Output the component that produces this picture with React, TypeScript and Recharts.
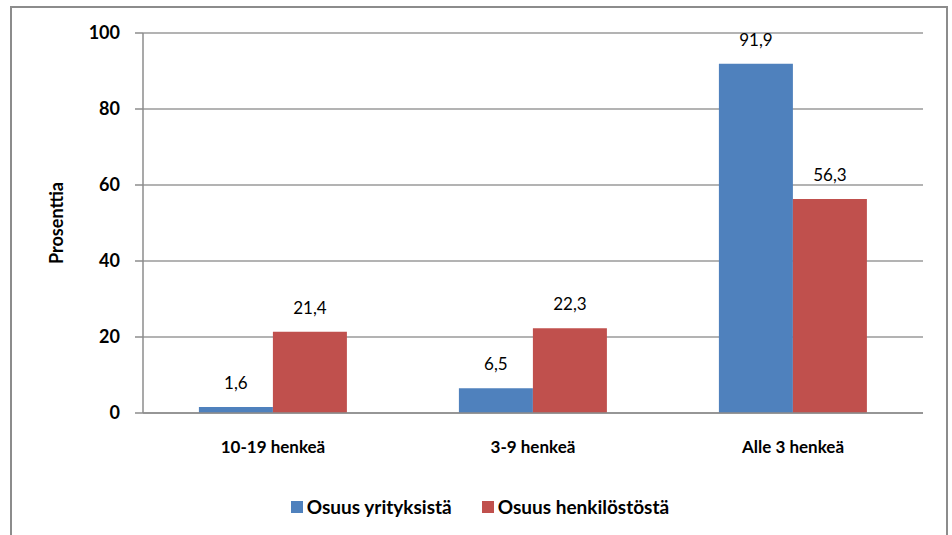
import { BarChart, Bar, XAxis, YAxis, CartesianGrid, Legend, LabelList } from "recharts";

const categories = ["10-19  henkeä", "3-9 henkeä", "Alle 3 henkeä"];
const yritykset = [1.6, 6.5, 91.9];
const henkilosto = [21.4, 22.3, 56.3];
const yTicks = [0, 20, 40, 60, 80, 100];
const seriesNames = ["Osuus yrityksistä", "Osuus henkilöstöstä"];
const seriesColors = ["#4f81bd", "#c0504d"];

const data = categories.map((name, i) => ({
  name,
  yritykset: yritykset[i],
  henkilosto: henkilosto[i],
}));

const font = "Lato, 'Open Sans', sans-serif";
const fmt = (v: any) => String(v).replace(".", ",");

const LegendContent = () => (
  <div style={{ display: "flex", justifyContent: "center", gap: 30, fontFamily: font, fontSize: 19, fontWeight: 700, color: "#000", marginLeft: -26 }}>
    {seriesNames.map((n, i) => (
      <div key={n} style={{ display: "flex", alignItems: "center", gap: 4 }}>
        <span style={{ display: "inline-block", width: 12, height: 12, background: seriesColors[i] }} />
        <span>{n}</span>
      </div>
    ))}
  </div>
);

export default function App() {
  return (
    <div style={{ position: "absolute", left: 0, top: 0, width: 952, height: 535, background: "#fff", fontFamily: font }}>
      <div
        style={{
          position: "absolute",
          left: 10,
          top: 6,
          width: 938,
          height: 540,
          border: "2px solid #8c8c8c",
          boxSizing: "border-box",
        }}
      />
      <BarChart
        width={952}
        height={535}
        data={data}
        margin={{ top: 33, right: 29, left: 63, bottom: 17 }}
        barCategoryGap="21.5%"
        barGap={0}
      >
        <CartesianGrid vertical={false} stroke="#9a9a9a" strokeWidth={1.5} />
        <XAxis
          dataKey="name"
          height={82}
          tickLine={false}
          axisLine={{ stroke: "#8c8c8c", strokeWidth: 1.5 }}
          tick={{ fill: "#000", fontSize: 17, fontWeight: 700, fontFamily: font }}
          tickMargin={22}
        />
        <YAxis
          width={80}
          domain={[0, 100]}
          ticks={yTicks}
          tickSize={8}
          tickMargin={15}
          axisLine={{ stroke: "#8c8c8c", strokeWidth: 1.5 }}
          tickLine={{ stroke: "#8c8c8c", strokeWidth: 1.5 }}
          tick={{ fill: "#000", fontSize: 18, fontWeight: 700, fontFamily: font }}
          label={{
            value: "Prosenttia",
            angle: -90,
            position: "insideLeft",
            offset: 0,
            dx: -6,
            style: { fill: "#000", fontSize: 18, fontWeight: 700, fontFamily: font, textAnchor: "middle" },
          }}
        />
        <Legend verticalAlign="bottom" align="center" content={LegendContent} />
        <Bar dataKey="yritykset" name={seriesNames[0]} fill={seriesColors[0]} isAnimationActive={false}>
          <LabelList dataKey="yritykset" position="top" offset={18} formatter={fmt} style={{ fill: "#000", fontSize: 17, fontFamily: font }} />
        </Bar>
        <Bar dataKey="henkilosto" name={seriesNames[1]} fill={seriesColors[1]} isAnimationActive={false}>
          <LabelList dataKey="henkilosto" position="top" offset={18} formatter={fmt} style={{ fill: "#000", fontSize: 17, fontFamily: font }} />
        </Bar>
      </BarChart>
    </div>
  );
}
